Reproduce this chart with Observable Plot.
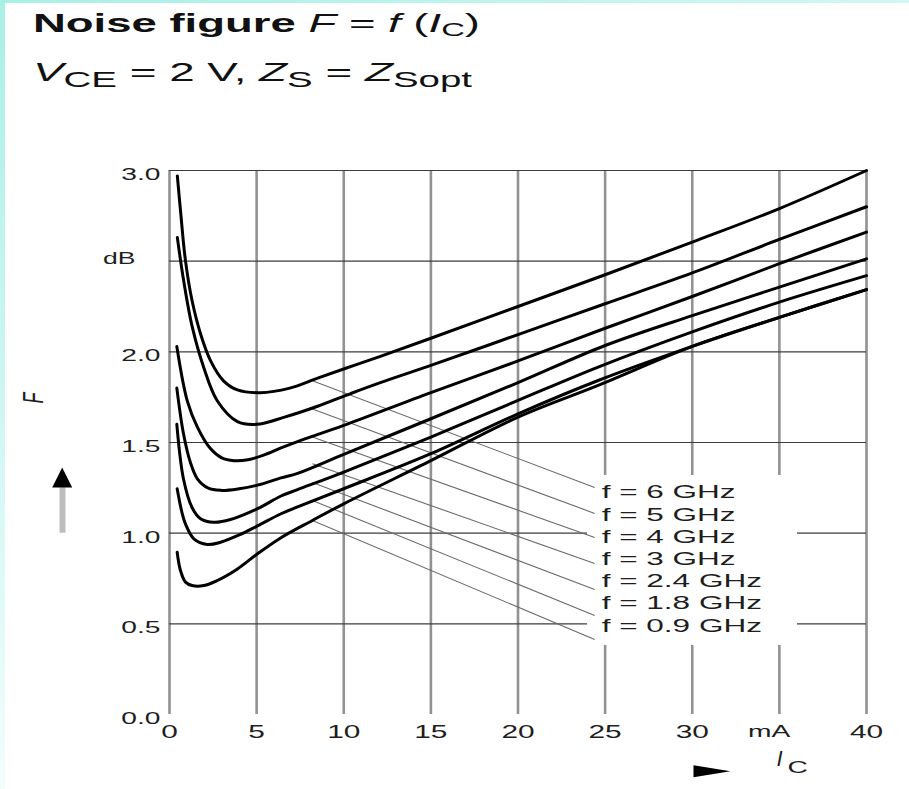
<!DOCTYPE html>
<html><head><meta charset="utf-8">
<script src="https://cdn.jsdelivr.net/npm/d3@7"></script>
<script src="https://cdn.jsdelivr.net/npm/@observablehq/plot@0.6"></script>
<style>
html,body{margin:0;padding:0;background:#fff;}
body{width:909px;height:789px;position:relative;overflow:hidden;font-family:"Liberation Sans",Arial,sans-serif;}
#stripL{position:absolute;left:0;top:0;width:5px;height:789px;background:linear-gradient(#a8f0e6,#f2fdfc);z-index:5;}
#stripT{position:absolute;left:0;top:0;width:909px;height:3px;background:linear-gradient(90deg,#a8f0e6,#d0f8f2);z-index:5;}
#head{position:relative;height:120px;}
.ln{position:absolute;left:33px;white-space:nowrap;font-size:25.6px;line-height:25.6px;color:#111;transform-origin:0 0;}
.ln sub{vertical-align:baseline;position:relative;line-height:0;}
#t1 sub{font-size:0.72em;top:0.2em;}
#t2 sub{font-size:0.84em;top:0.3em;}
#chart{position:relative;}
</style></head><body>
<div id="stripL"></div><div id="stripT"></div>
<div id="head">
<div class="ln" id="t1" style="top:11px"><b>Noise figure</b> <i>F</i> = <i>f</i> (<i>I</i><sub>C</sub>)</div>
<div class="ln" id="t2" style="top:60px"><i>V</i><sub>CE</sub> = 2 V, <i>Z</i><sub>S</sub> = <i>Z</i><sub>Sopt</sub></div>
</div>
<div id="chart"></div>
<script>
// ---- data ----
const xTicks = [0, 5, 10, 15, 20, 25, 30, 35, 40];
const xTickLabels = ["0", "5", "10", "15", "20", "25", "30", "mA", "40"];
const yTicks = [0, 0.5, 1.0, 1.5, 2.0, 2.5, 3.0];
const yTickLabels = ["0.0", "0.5", "1.0", "1.5", "2.0", "dB", "3.0"];
const unitLabels = ["mA", "dB"];
const freqLabels = ["f = 6 GHz", "f = 5 GHz", "f = 4 GHz", "f = 3 GHz", "f = 2.4 GHz", "f = 1.8 GHz", "f = 0.9 GHz"];

// [Ic (mA), F (dB)]
const f6GHz = [[0.45,2.97],[0.63,2.78],[0.92,2.50],[1.3,2.28],[1.78,2.10],[2.36,1.95],[3.1,1.84],[3.9,1.79],[5.2,1.775],[6.9,1.80],[8.5,1.855],[10.2,1.912],[12.1,1.975],[15,2.075],[20,2.25],[25,2.425],[30,2.605],[35,2.79],[40,3.0]];
const f5GHz = [[0.45,2.63],[0.8,2.4],[1.3,2.14],[1.96,1.915],[2.74,1.73],[3.9,1.615],[5,1.60],[6.6,1.64],[8.5,1.70],[10.4,1.77],[12.1,1.83],[15,1.925],[20,2.095],[25,2.265],[30,2.435],[35,2.62],[40,2.80]];
const f4GHz = [[0.42,2.03],[1.02,1.73],[1.6,1.585],[2.36,1.465],[3.0,1.415],[3.7,1.40],[4.5,1.405],[5.4,1.43],[6.4,1.47],[7.35,1.505],[10,1.594],[15,1.775],[20,1.95],[25,2.13],[30,2.305],[35,2.486],[40,2.66]];
const f3GHz = [[0.42,1.80],[0.8,1.55],[1.2,1.39],[1.6,1.30],[2.2,1.25],[2.93,1.236],[4,1.245],[5.05,1.265],[6.4,1.305],[7.35,1.33],[10,1.435],[15,1.631],[20,1.83],[25,2.035],[30,2.2],[35,2.357],[40,2.513]];
const f2_4GHz = [[0.42,1.60],[0.8,1.30],[1.3,1.14],[1.78,1.08],[2.55,1.06],[3.5,1.075],[5.05,1.135],[6.4,1.205],[7.35,1.24],[10,1.337],[15,1.53],[20,1.732],[24.6,1.916],[30,2.11],[35,2.274],[40,2.42]];
const f1_8GHz = [[0.44,1.245],[0.7,1.12],[0.92,1.05],[1.4,0.969],[2.17,0.938],[2.93,0.95],[4,0.99],[5.05,1.04],[6.4,1.107],[7.35,1.145],[10,1.245],[15,1.438],[20,1.658],[24.6,1.842],[30,2.03],[35,2.19],[40,2.343]];
const f0_9GHz = [[0.44,0.895],[0.63,0.794],[0.92,0.73],[1.3,0.711],[1.97,0.711],[2.74,0.739],[3.9,0.803],[5.05,0.886],[6.4,0.975],[8.2,1.07],[10,1.162],[15,1.40],[20,1.64],[24.6,1.815],[30,2.03],[35,2.19],[40,2.343]];
const curves = [f6GHz, f5GHz, f4GHz, f3GHz, f2_4GHz, f1_8GHz, f0_9GHz];

// leader lines: from each curve to its label
const leaderStartIc = [8.2, 8.2, 8.2, 8.2, 8.2, 8.2, 8.2];
const leaderStartF = [1.84, 1.685, 1.53, 1.383, 1.28, 1.18, 1.07];
const leaderEndIc = 24.4;
const leaderEndF = [1.252, 1.109, 0.976, 0.833, 0.689, 0.546, 0.414];
const labelIc = 24.8;
const labelF = [1.226, 1.103, 0.981, 0.858, 0.735, 0.613, 0.491];
const legendBox = {x1: 23.99, x2: 36.04, y1: 0.381, y2: 1.318};

// ---- build ----
const rows = curves.flatMap((c, i) => c.map(([x, y]) => ({series: freqLabels[i], x, y})));
const leaders = freqLabels.map((f, i) => ({x1: leaderStartIc[i], y1: leaderStartF[i], x2: leaderEndIc, y2: leaderEndF[i]}));
const legendRows = freqLabels.map((f, i) => ({label: f, x: labelIc, y: labelF[i]}));
const xNum = xTicks.filter((d, i) => !unitLabels.includes(xTickLabels[i]));
const xUnit = xTicks.filter((d, i) => unitLabels.includes(xTickLabels[i]));
const yNum = yTicks.filter((d, i) => !unitLabels.includes(yTickLabels[i]));
const yUnit = yTicks.filter((d, i) => unitLabels.includes(yTickLabels[i]));
const xFmt = d => xTickLabels[xTicks.indexOf(d)];
const yFmt = d => yTickLabels[yTicks.indexOf(d)];

const arrowUp = {draw(ctx) { ctx.moveTo(0, -10); ctx.lineTo(10, 10); ctx.lineTo(-10, 10); ctx.closePath(); }};
const arrowRight = {draw(ctx) { ctx.moveTo(18.5, 0); ctx.lineTo(-18.5, -6); ctx.lineTo(-18.5, 6); ctx.closePath(); }};

const ink = "#1e1e1e";
const plot = Plot.plot({
  width: 909, height: 669,
  marginLeft: 169, marginRight: 43, marginTop: 50, marginBottom: 75,
  x: {domain: [0, 40]},
  y: {domain: [0, 3]},
  style: {fontFamily: "'Liberation Sans', Arial, sans-serif", fontSize: "17px", background: "transparent", color: ink, overflow: "visible"},
  marks: [
    Plot.ruleX(xTicks, {stroke: "#929292", strokeWidth: 2.6}),
    Plot.ruleY(yTicks.filter(v => v > 0), {stroke: "#3c3c3c", strokeWidth: 1.2}),
    Plot.rect([legendBox], {x1: "x1", x2: "x2", y1: "y1", y2: "y2", fill: "white"}),
    Plot.link(leaders, {x1: "x1", y1: "y1", x2: "x2", y2: "y2", stroke: "#6a6a6a", strokeWidth: 1.1}),
    Plot.line(rows, {x: "x", y: "y", z: "series", stroke: "#000", strokeWidth: 3, curve: "catmull-rom"}),
    Plot.text(legendRows, {x: "x", y: "y", text: "label", textAnchor: "start", fontSize: 19, fill: ink}),
    Plot.axisX({ticks: xNum, tickFormat: xFmt, tickSize: 0, tickPadding: 11, fontSize: 18, label: null, fill: ink}),
    Plot.axisX({ticks: xUnit, tickFormat: xFmt, tickSize: 0, tickPadding: 10, dx: -10, fontSize: 17, label: null, fill: ink}),
    Plot.axisY({ticks: yNum, tickFormat: yFmt, tickSize: 0, tickPadding: 9, dy: 4, fontSize: 17, label: null, fill: ink}),
    Plot.axisY({ticks: yUnit, tickFormat: yFmt, tickSize: 0, tickPadding: 34, dy: -2, fontSize: 16, label: null, fill: ink}),
    // axis names and arrows
    Plot.text(["F"], {frameAnchor: "left", dx: -136, dy: -39, rotate: -90, fontStyle: "italic", fontSize: 18, fill: ink}),
    Plot.ruleX([0], {y1: 1.0, y2: 1.25, dx: -107, stroke: "#bcbcbc", strokeWidth: 6}),
    Plot.dot([0], {frameAnchor: "left", dx: -107.3, dy: 35, symbol: arrowUp, fill: "#000", stroke: "none"}),
    Plot.dot([0], {frameAnchor: "bottom-left", dx: 542.5, dy: 56.7, symbol: arrowRight, fill: "#000", stroke: "none"}),
    Plot.text(["I"], {frameAnchor: "bottom-left", dx: 607, dy: 51, fontSize: 22, fontStyle: "italic", fill: ink}),
    Plot.text(["C"], {frameAnchor: "bottom-left", dx: 618, dy: 58, fontSize: 17, fill: ink})
  ]
});
document.getElementById("chart").appendChild(plot);

// the reference's lettering is drawn wide: stretch each label horizontally (on the page) about its anchor
const K = 1.66;
plot.querySelectorAll("text").forEach(t => {
  const s = t.textContent;
  if (s === "I") return;
  const b = t.getBBox();
  const tr = t.getAttribute("transform") || "";
  if (s === "F") { // rotated: page-x is the glyph's local y
    const cy = b.y + b.height / 2;
    t.setAttribute("transform", `${tr} translate(0,${cy}) scale(1,${K}) translate(0,${-cy})`);
    return;
  }
  const anchor = getComputedStyle(t).textAnchor;
  const ax = anchor === "end" ? b.x + b.width : anchor === "middle" ? b.x + b.width / 2 : b.x;
  t.setAttribute("transform", `${tr} translate(${ax},0) scale(${K},1) translate(${-ax},0)`);
});
// title lines: stretch to the reference widths
[["t1", 447], ["t2", 439]].forEach(([id, w]) => {
  const el = document.getElementById(id);
  const cur = el.getBoundingClientRect().width;
  el.style.transform = `scaleX(${w / cur})`;
});
</script>
</body></html>
